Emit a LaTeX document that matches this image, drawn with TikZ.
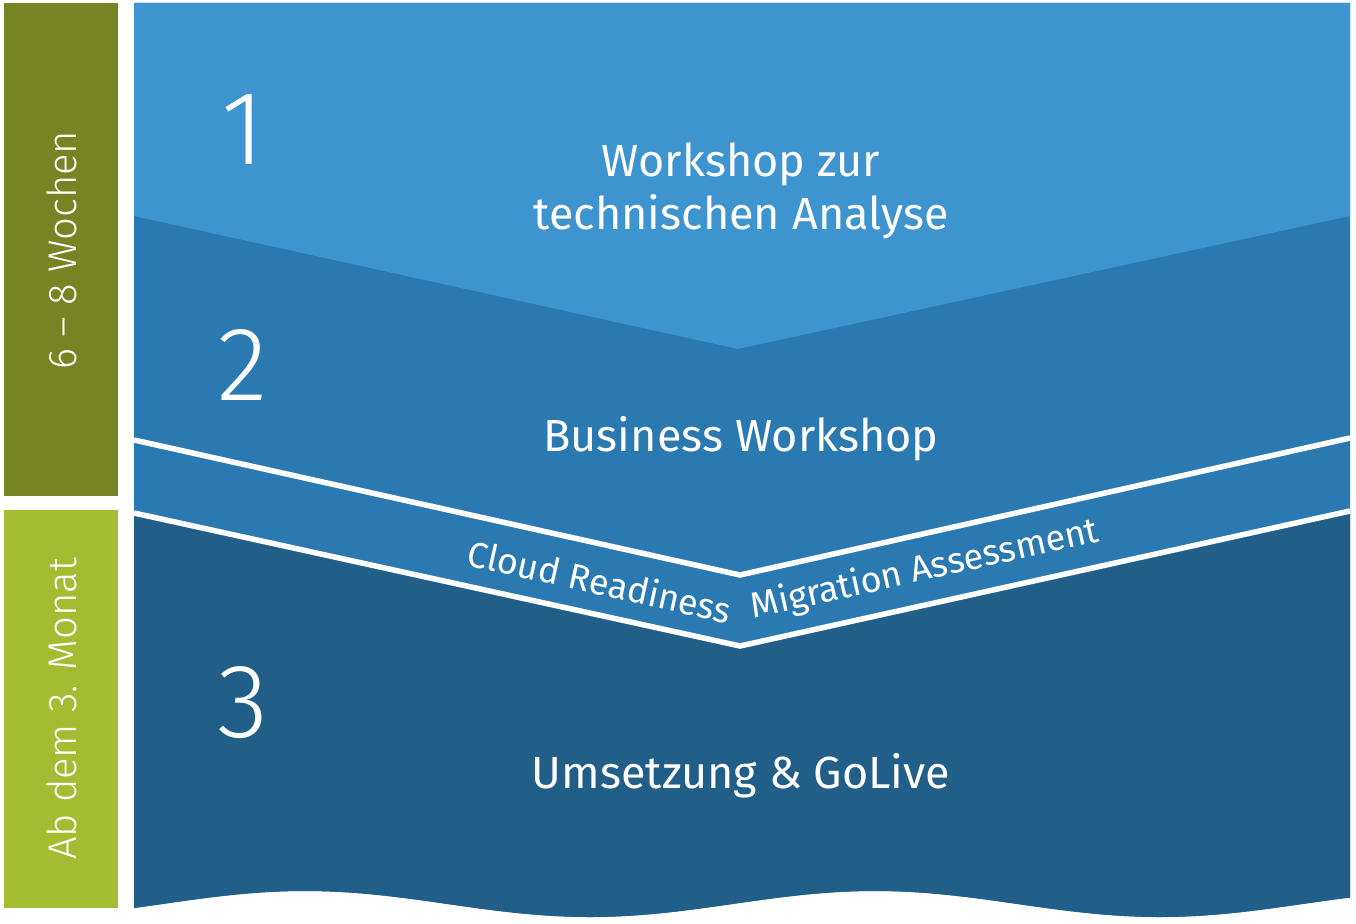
\documentclass[tikz,border=0pt]{standalone}
\usepackage{fontspec}
\setmainfont{Fira Sans}
\newfontfamily\lightfont{Fira Sans}[UprightFont=* Light]
\definecolor{blueA}{HTML}{3D94CE}
\definecolor{blueB}{HTML}{2A79B0}
\definecolor{blueC}{HTML}{215E88}
\definecolor{oliveA}{HTML}{768423}
\definecolor{greenA}{HTML}{A4BC32}
\tikzset{
  sep/.style={draw=white, line width=5.5pt, line join=miter},
  numlbl/.style={text=white, inner sep=0pt, font=\lightfont\fontsize{105}{105}\selectfont},
  mainlbl/.style={text=white, inner sep=0pt, align=center, font=\fontsize{45}{53}\selectfont},
  bandlbl/.style={text=white, inner sep=0pt, font=\fontsize{36}{36}\selectfont},
  sidelbl/.style={text=white, inner sep=0pt, rotate=90, font=\lightfont\fontsize{40}{40}\selectfont},
}
\begin{document}
\begin{tikzpicture}[x=1pt,y=-1pt]
\useasboundingbox (0,0) rectangle (1356,923);
\fill[white] (0,0) rectangle (1356,923);
% side bars
\fill[oliveA] (4,3) rectangle (118,496);
\fill[greenA] (4,510) rectangle (118,908);
\node[sidelbl] (s1) at (62,250) {6 – 8 Wochen};
\node[sidelbl] (s2) at (62,709) {Ab dem 3. Monat};
% main blue body with wavy bottom
\fill[blueB] (134,3) -- (1350,3) -- (1350,460)
  -- plot[domain=1350:134, samples=120, smooth] (\x, {904-13*cos((\x-305)/570*360)})
  -- cycle;
% top wedge
\fill[blueA] (134,3) -- (1350,3) -- (1350,216) -- (738,349) -- (134,216) -- cycle;
% bottom dark part
\fill[blueC] (134,513) -- (740,646) -- (1350,511)
  -- plot[domain=1350:134, samples=120, smooth] (\x, {904-13*cos((\x-305)/570*360)})
  -- cycle;
% white separators
\coordinate (a1) at (134,440);
\coordinate (a2) at (740,575);
\coordinate (a3) at (1350,438);
\coordinate (b1) at (134,513);
\coordinate (b2) at (740,646);
\coordinate (b3) at (1350,511);
\draw[sep] (a1) -- (a2) -- (a3);
\draw[sep] (b1) -- (b2) -- (b3);
% numbers
\node[numlbl] (n1) at (243,130) {1};
\node[numlbl] (n2) at (243,365) {2};
\node[numlbl] (n3) at (243,703) {3};
% labels
\node[mainlbl] (l1) at (741,191) {Workshop zur\\technischen Analyse};
\node[mainlbl] (l2) at (741,439) {Business Workshop};
\node[mainlbl] (l3) at (741,776) {Umsetzung \& GoLive};
\node[bandlbl, rotate=-12.6] (c1) at (600,581) {Cloud Readiness};
\node[bandlbl, rotate=12.6] (c2) at (925,570) {Migration Assessment};
\end{tikzpicture}
\end{document}
